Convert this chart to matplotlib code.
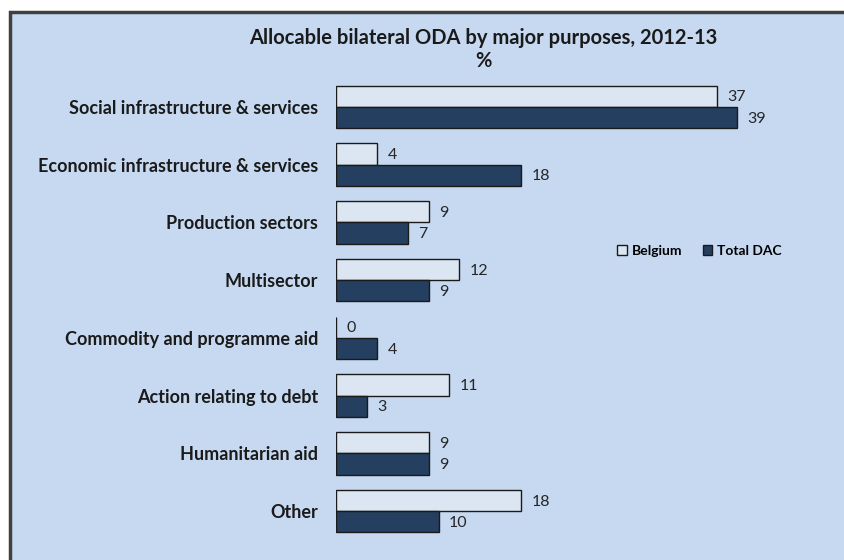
import numpy as np
import matplotlib
matplotlib.use("Agg")
import matplotlib.pyplot as plt
from matplotlib.patches import Rectangle

plt.rcParams['font.family'] = ['Lato', 'DejaVu Sans']

categories = ["Social infrastructure & services",
              "Economic infrastructure & services",
              "Production sectors",
              "Multisector",
              "Commodity and programme aid",
              "Action relating to debt",
              "Humanitarian aid",
              "Other"]
belgium = [37, 4, 9, 12, 0, 11, 9, 18]
total_dac = [39, 18, 7, 9, 4, 3, 9, 10]
series_names = ["Belgium", "Total DAC"]

bg = "#C6D9F1"
c_bel = "#DCE6F2"
c_dac = "#243F60"

fig = plt.figure(figsize=(8.45, 5.6), dpi=100)
fig.patch.set_facecolor("white")

# outer chart frame, drawn on a background axes
bgax = fig.add_axes([0, 0, 1, 1], zorder=-5)
bgax.set_axis_off()
bgax.set_xlim(0, 845)
bgax.set_ylim(560, 0)
bgax.add_patch(Rectangle((10, 12), 900, 600, facecolor=bg, edgecolor="#404040",
                         linewidth=2.5))

ax = fig.add_axes([336 / 845, 1 - 540 / 560, 463 / 845, (540 - 78) / 560])
ax.set_facecolor("none")

y = np.arange(len(categories))
h = 0.37
ax.barh(y - h / 2, belgium, height=h, color=c_bel, edgecolor="#1a1a1a", linewidth=1.0,
        label=series_names[0])
ax.barh(y + h / 2, total_dac, height=h, color=c_dac, edgecolor="#1a1a1a", linewidth=1.0,
        label=series_names[1])

for i in range(len(categories)):
    ax.text(belgium[i] + 1.0, y[i] - h / 2 + 0.02, str(belgium[i]), va="center", ha="left",
            fontsize=11.5, color="#262626")
    ax.text(total_dac[i] + 1.0, y[i] + h / 2 + 0.02, str(total_dac[i]), va="center", ha="left",
            fontsize=11.5, color="#262626")

ax.set_xlim(0, 45)
ax.set_ylim(len(categories) - 0.5, -0.5)
ax.set_xticks([])
ax.set_yticks(y)
ax.set_yticklabels(categories, fontsize=13, fontweight="bold", color="#1a1a1a")
ax.tick_params(axis="y", length=0, pad=13)
for s in ax.spines.values():
    s.set_visible(False)

fig.text(483 / 845, 1 - 38 / 560, "Allocable bilateral ODA by major purposes, 2012-13",
         ha="center", va="center", fontsize=14.5, fontweight="bold", color="#1a1a1a")
fig.text(483 / 845, 1 - 61 / 560, "%", ha="center", va="center", fontsize=14.5,
         fontweight="bold", color="#1a1a1a")

leg = ax.legend(loc="center left", bbox_to_anchor=(605 / 845, 1 - 251 / 560),
                bbox_transform=fig.transFigure, ncol=2, frameon=False,
                prop={"size": 10, "weight": "bold"}, handlelength=0.7, handleheight=0.7,
                handletextpad=0.3, columnspacing=1.5)

fig.savefig("out.png", dpi=100, facecolor=fig.get_facecolor())
